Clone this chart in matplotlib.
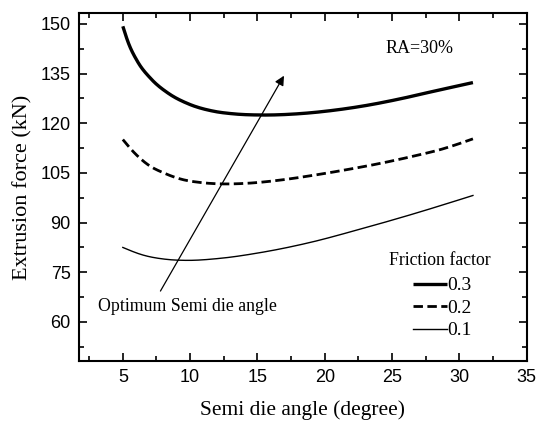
import matplotlib.pyplot as plt
import numpy as np
from matplotlib.ticker import MultipleLocator

# Semi die angle (degree) and extrusion force (kN)
angle_03 = [5, 5.4, 6.1, 7.1, 8.4, 9.85, 11.8, 13.1, 15.4, 18.1, 20.6, 23.1, 25.5, 28, 31]
force_03 = [149.3, 144.4, 138.6, 133.4, 129.0, 125.9, 123.6, 122.9, 122.5, 122.9, 123.9, 125.4, 127.3, 129.6, 132.3]
angle_02 = [5, 5.9, 6.9, 8.1, 9.35, 10.8, 12.3, 14.3, 16.8, 19.0, 21.5, 24, 26.5, 28.7, 31]
force_02 = [115.1, 110.9, 107.4, 104.9, 103.1, 102.1, 101.7, 101.9, 102.9, 104.2, 105.9, 107.8, 110.0, 112.2, 115.3]
angle_01 = [5, 6.5, 8.25, 9.7, 12.2, 15.15, 18.9, 22.6, 26.3, 31]
force_01 = [82.5, 80.2, 78.9, 78.6, 79.2, 80.9, 84.0, 88.0, 92.3, 98.2]
friction = ['0.3', '0.2', '0.1']

serif = 'Liberation Serif'
sans = 'Liberation Sans'


def smooth(x, y, n=25):
    # cubic hermite through the read points, slopes from neighbours
    x = np.asarray(x, float)
    y = np.asarray(y, float)
    h = np.diff(x)
    d = np.diff(y) / h
    m = np.empty_like(y)
    m[1:-1] = (h[1:] * d[:-1] + h[:-1] * d[1:]) / (h[:-1] + h[1:])
    m[0] = d[0] + (d[0] - m[1]) * 0.5
    m[-1] = d[-1] + (d[-1] - m[-2]) * 0.5
    outx, outy = [], []
    t = np.linspace(0, 1, n, endpoint=False)
    for i in range(len(x) - 1):
        h00 = 2 * t ** 3 - 3 * t ** 2 + 1
        h10 = t ** 3 - 2 * t ** 2 + t
        h01 = -2 * t ** 3 + 3 * t ** 2
        h11 = t ** 3 - t ** 2
        outx.extend(x[i] + t * h[i])
        outy.extend(h00 * y[i] + h10 * h[i] * m[i] + h01 * y[i + 1] + h11 * h[i] * m[i + 1])
    outx.append(x[-1])
    outy.append(y[-1])
    return outx, outy


fig = plt.figure(figsize=(5.37, 4.21), dpi=100)
ax = fig.add_axes([0.147, 0.1425, 0.834, 0.8265])

xs, ys = smooth(angle_03, force_03)
l3, = ax.plot(xs, ys, color='black', lw=2.4, solid_capstyle='butt')
xs, ys = smooth(angle_02, force_02)
l2, = ax.plot(xs, ys, color='black', lw=2.0, linestyle=(0, (3.4, 1.6)))
xs, ys = smooth(angle_01, force_01)
l1, = ax.plot(xs, ys, color='black', lw=1.0)

ax.set_xlim(1.74, 35)
ax.set_ylim(48.2, 153.3)
ax.xaxis.set_major_locator(MultipleLocator(5))
ax.xaxis.set_minor_locator(MultipleLocator(2.5))
ax.yaxis.set_major_locator(MultipleLocator(15))
ax.yaxis.set_minor_locator(MultipleLocator(7.5))
ax.tick_params(which='both', direction='in', top=True, right=True, width=1.2,
               labelsize=13, pad=6)
ax.tick_params(which='major', length=6)
ax.tick_params(which='minor', length=3.5)
for lab in ax.get_xticklabels() + ax.get_yticklabels():
    lab.set_family(sans)
for s in ax.spines.values():
    s.set_linewidth(1.5)

ax.set_xlabel('Semi die angle (degree)', family=serif, fontsize=15.5, labelpad=10)
ax.set_ylabel('Extrusion force (kN)', family=serif, fontsize=16, labelpad=6)

ax.annotate('', xy=(17.07, 135.1), xytext=(7.69, 68.6),
            arrowprops=dict(arrowstyle='-|>', color='black', lw=0.9,
                            mutation_scale=14))
ax.text(3.15, 64.8, 'Optimum Semi die angle', family=serif, fontsize=12.8,
        va='center', ha='left')
ax.text(24.5, 142.7, 'RA=30%', family=serif, fontsize=13, va='center')

ax.text(0.92, 0.29, 'Friction factor', transform=ax.transAxes,
        family=serif, fontsize=12.8, ha='right', va='center')
leg = ax.legend([l3, l2, l1], friction, loc='lower right',
                bbox_to_anchor=(0.895, 0.04), frameon=False,
                handlelength=1.75, handletextpad=0.05, borderaxespad=0,
                labelspacing=0.25, prop={'family': serif, 'size': 14})

fig.savefig('out.png', dpi=100)
